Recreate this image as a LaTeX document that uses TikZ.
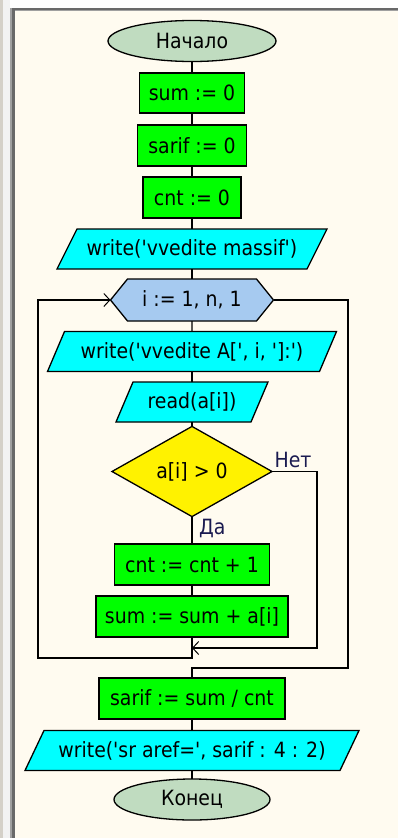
\documentclass[tikz,border=0pt]{standalone}
\usepackage{fontspec}
\setmainfont{DejaVu Sans}[FakeStretch=0.9, Ligatures=TeXOff]
\usetikzlibrary{shapes.geometric,shapes.symbols,arrows.meta}

\definecolor{cream}{HTML}{FFFBF0}
\definecolor{moneygreen}{HTML}{C0DCC0}
\definecolor{skyblue}{HTML}{A6CAF0}
\definecolor{lime}{HTML}{00FF00}
\definecolor{aqua}{HTML}{00FFFF}
\definecolor{labelnavy}{HTML}{1A1A50}
\definecolor{frameA}{HTML}{D4D0C8}
\definecolor{frameB}{HTML}{F2F2F2}
\definecolor{frameC}{HTML}{A0A0A0}
\definecolor{frameD}{HTML}{696969}

\pgfdeclarelayer{canvas}
\pgfdeclarelayer{shapes}
\pgfsetlayers{canvas,shapes,main}

\tikzset{
  every node/.style={font=\fontsize{21}{25}\selectfont, inner sep=0pt, outer sep=0pt},
  terminal/.style={ellipse, draw, fill=moneygreen, line width=1.3pt},
  action/.style={rectangle, draw, fill=lime, line width=1.3pt},
  iotext/.style={rectangle, minimum height=40},
  ioshape/.style={draw, fill=aqua, line width=1.3pt},
  loophead/.style={signal, signal to=west and east, signal pointer angle=102,
                   draw, fill=skyblue, line width=1.3pt},
  decision/.style={diamond, draw, fill=yellow, line width=1.3pt},
  lbl/.style={text=labelnavy},
  flow/.style={line width=1.3pt},
  tip/.style={-{Straight Barb[length=6pt,width=13pt,line width=1pt]}}
}

% input/output block: parallelogram behind a named text node
% #1 name, #2 position, #3 side length, #4 slant, #5 text
\newcommand\ioblock[5]{%
  \node[iotext, minimum width=#3] (#1) at (#2) {#5};
  \begin{pgfonlayer}{shapes}
    \filldraw[ioshape] ([xshift=#4/2]#1.north west) -- ([xshift=#4/2]#1.north east)
      -- ([xshift=-#4/2]#1.south east) -- ([xshift=-#4/2]#1.south west) -- cycle;
  \end{pgfonlayer}}

\begin{document}
\begin{tikzpicture}[x=1pt,y=-1pt]
\useasboundingbox (0,0) rectangle (398,838);

% window frame and canvas
\begin{pgfonlayer}{canvas}
  \fill[white]  (0,0) rectangle (398,838);
  \fill[frameA] (0,0) rectangle (3,838);
  \fill[frameB] (3,0) rectangle (10,838);
  \fill[frameC] (10,8) rectangle (12,838);
  \fill[frameD] (12,8) rectangle (15,838);
  \fill[frameD] (12,8) rectangle (398,10);
  \fill[frameC] (15,10) rectangle (398,11);
  \fill[cream]  (15,11) rectangle (398,838);
\end{pgfonlayer}

% blocks
\node[terminal, minimum width=168, minimum height=41] (start) at (192,41) {Начало};
\node[action, minimum width=105, minimum height=40] (a1) at (192,93) {sum := 0};
\node[action, minimum width=109, minimum height=41] (a2) at (192,145.5) {sarif := 0};
\node[action, minimum width=98, minimum height=41] (a3) at (192,197.5) {cnt := 0};
\ioblock{io1}{192,249}{250}{20}{write('vvedite massif')}
\node[loophead, minimum width=163, minimum height=42] (loop) at (192,300) {i := 1, n, 1};
\ioblock{io2}{192,351.5}{272}{17}{write('vvedite A[', i, ']:')}
\ioblock{io3}{192,402}{135}{17}{read(a[i])}
\node[decision, minimum width=160, minimum height=79] (cond) at (192,471.5) {a[i] > 0};
\node[action, minimum width=155, minimum height=41] (a4) at (192,564.5) {cnt := cnt + 1};
\node[action, minimum width=192, minimum height=41] (a5) at (192,616.5) {sum := sum + a[i]};
\node[action, minimum width=186, minimum height=41] (a6) at (192,698.5) {sarif := sum / cnt};
\ioblock{io4}{192,750.5}{315}{19}{write('sr aref=', sarif : 4 : 2)}
\node[terminal, minimum width=156, minimum height=41] (stop) at (192,799.5) {Конец};

% branch labels
\node[lbl] (no) at (293,460) {Нет};
\node[lbl, anchor=west] (yes) at (199,528) {Да};

% rails and junctions
\coordinate (leftrail) at (38,0);
\coordinate (norail) at (317,0);
\coordinate (exitrail) at (348,0);
\coordinate (back) at (192,658);
\coordinate (join) at (192,648);
\coordinate (exitjoin) at (192,668);

% main flow
\draw[flow] (start) -- (a1);
\draw[flow] (a1) -- (a2);
\draw[flow] (a2) -- (a3);
\draw[flow] (a3) -- (io1);
\draw[flow] (io1) -- (loop);
\draw[flow] (loop) -- (io2);
\draw[flow] (io2) -- (io3);
\draw[flow] (io3) -- (cond);
\draw[flow] (cond) -- (a4);
\draw[flow] (a4) -- (a5);

% loop body returns to the header
\draw[flow, tip] (a5) -- (back) -| (leftrail |- loop.west) -- (loop.west);
% "no" branch joins the end of the body
\draw[flow, tip] (cond.east) -| (norail |- join) -- (join);
% loop exit
\draw[flow] (loop.east) -| (exitrail |- exitjoin) -- (exitjoin) -- (a6);

\draw[flow] (a6) -- (io4);
\draw[flow] (io4) -- (stop);
\end{tikzpicture}
\end{document}
